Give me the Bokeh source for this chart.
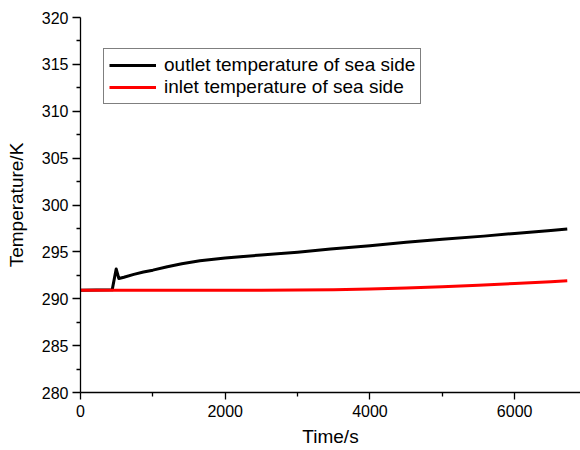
from bokeh.plotting import figure
from bokeh.models import Range1d, FixedTicker, Legend, LegendItem
from bokeh.embed import file_html
from bokeh.resources import INLINE

# Data
time_outlet = [0, 438, 493, 530, 600, 737, 870, 1000, 1200, 1400, 1650, 2000, 2500, 3000,
               3455, 4000, 4500, 5000, 5574, 6000, 6500, 6727]
temp_outlet = [290.9, 290.95, 293.17, 292.16, 292.3, 292.6, 292.85, 293.05, 293.42, 293.74,
               294.05, 294.35, 294.67, 294.97, 295.3, 295.65, 296.02, 296.35, 296.68, 296.97,
               297.28, 297.44]

time_inlet = [0, 1000, 2000, 2500, 3000, 3500, 4000, 4500, 5000, 5500, 6000, 6500, 6727]
temp_inlet = [290.9, 290.9, 290.9, 290.91, 290.93, 290.97, 291.04, 291.14, 291.28, 291.44,
              291.62, 291.82, 291.92]

x_ticks = [0, 2000, 4000, 6000]
x_minor = [1000, 3000, 5000]
y_ticks = [280, 285, 290, 295, 300, 305, 310, 315, 320]
y_minor = [282.5, 287.5, 292.5, 297.5, 302.5, 307.5, 312.5, 317.5]

series_names = ["outlet temperature of sea side", "inlet temperature of sea side"]

FONT = "Liberation Sans"

p = figure(width=580, height=450, x_range=Range1d(0, 6910), y_range=Range1d(280, 320),
           output_backend="svg", toolbar_location=None,
           min_border_left=80, min_border_right=0, min_border_top=17, min_border_bottom=58)
p.outline_line_color = None
p.xgrid.grid_line_color = None
p.ygrid.grid_line_color = None
p.background_fill_color = "white"
p.border_fill_color = "white"

r_out = p.line(time_outlet, temp_outlet, line_color="black", line_width=3, line_join="round")
r_in = p.line(time_inlet, temp_inlet, line_color="#ff0000", line_width=3, line_join="round")

for ax in (p.xaxis[0], p.yaxis[0]):
    ax.axis_line_color = "black"
    ax.axis_line_width = 1.3
    ax.major_tick_line_color = "black"
    ax.minor_tick_line_color = "black"
    ax.major_tick_line_width = 1.3
    ax.minor_tick_line_width = 1.3
    ax.major_tick_in = 0
    ax.minor_tick_in = 0
    ax.major_label_text_font = FONT
    ax.major_label_text_font_size = "16px"
    ax.major_label_text_color = "black"
    ax.axis_label_text_font = FONT
    ax.axis_label_text_font_size = "19px"
    ax.axis_label_text_font_style = "normal"
    ax.axis_label_text_color = "black"

p.xaxis.ticker = FixedTicker(ticks=x_ticks, minor_ticks=x_minor)
p.yaxis.ticker = FixedTicker(ticks=y_ticks, minor_ticks=y_minor)
p.xaxis.major_tick_out = 7
p.xaxis.minor_tick_out = 4
p.yaxis.major_tick_out = 8
p.yaxis.minor_tick_out = 4
p.xaxis.major_label_standoff = 5
p.yaxis.major_label_standoff = 4
p.xaxis.axis_label = "Time/s"
p.yaxis.axis_label = "Temperature/K"
p.xaxis.axis_label_standoff = 6
p.yaxis.axis_label_standoff = 12

legend = Legend(items=[LegendItem(label=series_names[0], renderers=[r_out]),
                       LegendItem(label=series_names[1], renderers=[r_in])],
                location=(23, 288))
legend.border_line_color = "black"
legend.border_line_width = 1
legend.padding = 5
legend.spacing = 0
legend.margin = 0
legend.glyph_width = 47
legend.glyph_height = 18
legend.label_height = 18
legend.label_standoff = 8
legend.label_text_font = FONT
legend.label_text_font_size = "19px"
legend.label_text_color = "black"
legend.background_fill_alpha = 1
p.add_layout(legend, "center")

open("out.html", "w").write(file_html(p, INLINE))
